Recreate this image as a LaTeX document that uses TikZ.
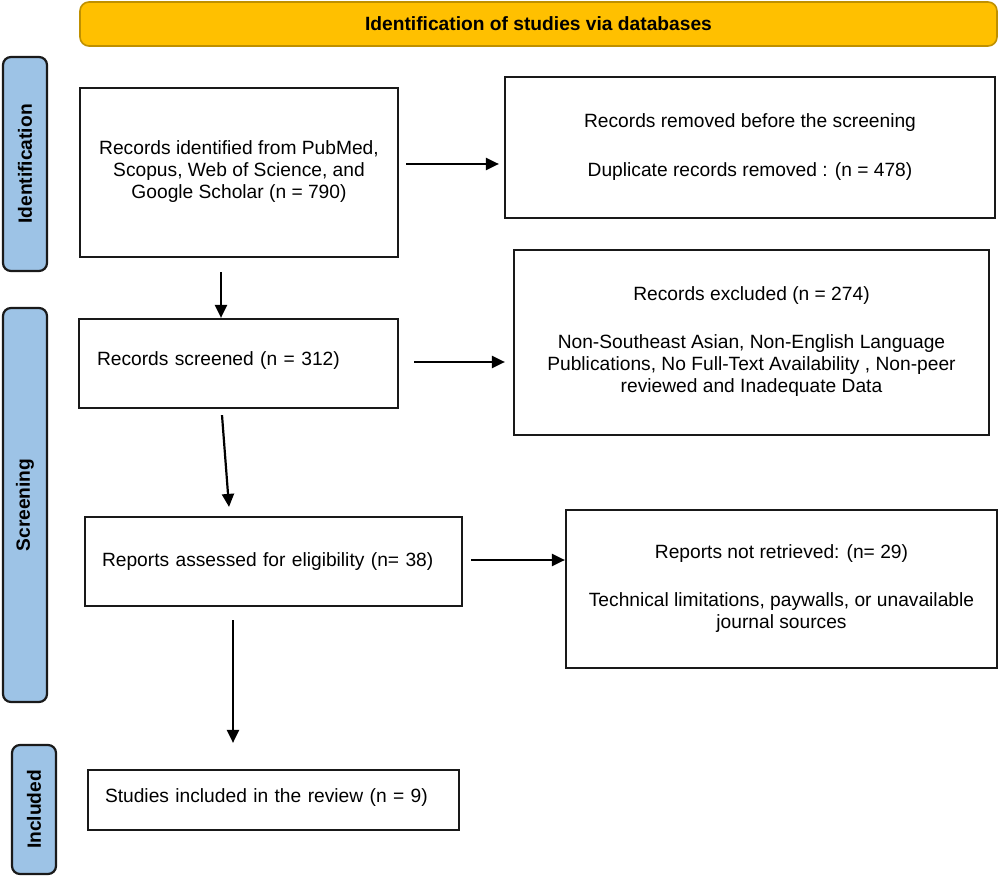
\documentclass[tikz,border=0pt]{standalone}
\usepackage{fontspec}
\setmainfont{Liberation Sans}
\usetikzlibrary{arrows.meta}
\definecolor{bannerfill}{HTML}{FFC000}
\definecolor{bannerdraw}{HTML}{BF9000}
\definecolor{sidefill}{HTML}{9DC3E6}
\definecolor{sidedraw}{HTML}{1A1A1A}
\begin{document}
\begin{tikzpicture}[x=1pt,y=-1pt,
  font=\fontsize{19.2}{22}\selectfont,
  box/.style={draw=black!90, line width=2.2pt, rectangle, inner sep=0pt},
  banner/.style={draw=bannerdraw, fill=bannerfill, line width=1.6pt, rounded corners=9pt,
    minimum width=917pt, minimum height=44pt, font=\fontsize{19.2}{22}\selectfont\bfseries},
  side/.style={draw=sidedraw, fill=sidefill, line width=2.2pt, rounded corners=8pt, rotate=90,
    minimum height=44pt, font=\fontsize{19.2}{22}\selectfont\bfseries, inner sep=0pt},
  arr/.style={line width=2.2pt, -{Triangle[length=13pt,width=12pt]}}
]
\useasboundingbox (0,0) rectangle (999,877);
\fill[white] (0,0) rectangle (999,877);

% banner
\node[banner] (banner) at (538.5,24) {Identification of studies via databases};

% side labels
\node[side, minimum width=214pt] (sid) at (25,164) {Identification};
\node[side, minimum width=394pt] (sscr) at (25,505) {Screening};
\node[side, minimum width=129pt] (sinc) at (34,809.5) {Included};

% boxes
\node[box, minimum width=318pt, minimum height=169pt] (b1) at (239,172.5)
  {\raisebox{9.5pt}{\begin{tabular}{@{}c@{}}Records identified from PubMed,\\ Scopus, Web of Science, and\\ Google Scholar (n = 790)\end{tabular}}};

\node[box, minimum width=490pt, minimum height=141pt] (b2) at (750,147.5)
  {\begin{tabular}{@{}c@{}}Records removed before the screening\\[27pt] Duplicate records removed : (n = 478)\end{tabular}};

\node[box, minimum width=319pt, minimum height=89pt, text width=283pt, align=left, inner xsep=18pt] (scr) at (238.5,363.5)
  {\raisebox{10.5pt}{Records screened (n = 312)}};

\node[box, minimum width=475pt, minimum height=185pt] (exc) at (751.5,342.5)
  {\begin{tabular}{@{}c@{}}Records excluded (n = 274)\\[26pt] Non-Southeast Asian, Non-English Language\\ Publications, No Full-Text Availability , Non-peer\\ reviewed and Inadequate Data\end{tabular}};

\node[box, minimum width=377pt, minimum height=89pt, text width=343pt, align=left, inner xsep=17pt] (ass) at (273.5,561.5)
  {Reports assessed for eligibility (n= 38)};

\node[box, minimum width=431pt, minimum height=158pt] (nr) at (781.5,589)
  {\raisebox{-3pt}{\begin{tabular}{@{}c@{}}Reports not retrieved: (n= 29)\\[26pt] Technical limitations, paywalls, or unavailable\\ journal sources\end{tabular}}};

\node[box, minimum width=371pt, minimum height=60pt, text width=337pt, align=left, inner xsep=17pt] (inc) at (273.5,800)
  {\raisebox{9pt}{Studies included in the review (n = 9)}};

% arrows
\draw[arr] ([xshift=7pt,yshift=8.5pt]b1.east) coordinate (a1) -- ([xshift=-5pt]b2.west |- a1);
\draw[arr] ([xshift=-18pt,yshift=-14pt]b1.south) coordinate (a2) -- (a2 |- scr.north);
\draw[arr] ([xshift=15pt,yshift=1.5pt]scr.east) coordinate (a3) -- ([xshift=-8pt]exc.west |- a3);
\draw[arr] ([xshift=-16.5pt,yshift=-6pt]scr.south) -- ([xshift=-44.5pt,yshift=9pt]ass.north);
\draw[arr] ([xshift=8pt,yshift=1.5pt]ass.east) coordinate (a5) -- (nr.west |- a5);
\draw[arr, shorten >=26pt] ([xshift=-40.5pt,yshift=-13pt]ass.south) coordinate (a6) -- (a6 |- inc.north);
\end{tikzpicture}
\end{document}
